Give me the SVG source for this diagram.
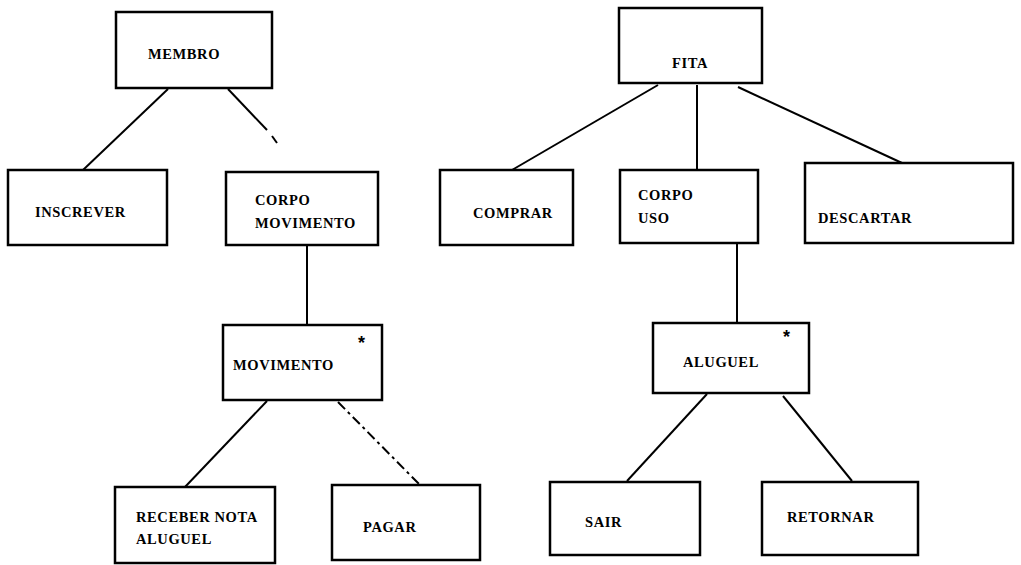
<svg xmlns="http://www.w3.org/2000/svg" width="1021" height="565" viewBox="0 0 1021 565">
<style>
.box{fill:#fff;stroke:#000;stroke-width:2.5}
.t{font-family:"Liberation Serif",serif;font-weight:bold;font-size:14.5px;letter-spacing:0.6px;fill:#000}
.star{font-family:"Liberation Sans",sans-serif;font-weight:bold;font-size:18px;fill:#000}
.c line{stroke:#000;stroke-width:2}
.dash{stroke-dasharray:10 4 3 4}
</style>
<rect width="1021" height="565" fill="#fff"/>
<g class="c" id="connectors">
<line x1="168" y1="89" x2="83" y2="170"/>
<line x1="228" y1="89" x2="267" y2="130"/>
<line x1="272" y1="136" x2="277" y2="143"/>
<line x1="307" y1="245" x2="307" y2="325"/>
<line x1="267" y1="401" x2="185" y2="487"/>
<line class="dash" x1="338" y1="402" x2="420" y2="485"/>
<line x1="658" y1="85" x2="512" y2="170"/>
<line x1="697" y1="85" x2="697" y2="169"/>
<line x1="738" y1="87" x2="902" y2="163"/>
<line x1="737" y1="243" x2="737" y2="323"/>
<line x1="707" y1="394" x2="627" y2="481"/>
<line x1="783" y1="396" x2="852" y2="481"/>
</g>
<g id="membro"><rect class="box" x="116" y="12" width="156" height="76"/><text class="t" x="148" y="59">MEMBRO</text></g>
<g id="inscrever"><rect class="box" x="8" y="170" width="159" height="75"/><text class="t" x="35" y="217">INSCREVER</text></g>
<g id="corpo-movimento"><rect class="box" x="226" y="172" width="152" height="73"/><text class="t" x="255" y="205">CORPO</text><text class="t" x="255" y="228">MOVIMENTO</text></g>
<g id="movimento"><rect class="box" x="223" y="325" width="159" height="75"/><text class="t" x="233" y="370">MOVIMENTO</text><text class="star" x="358" y="349">*</text></g>
<g id="receber"><rect class="box" x="115" y="487" width="160" height="76"/><text class="t" x="136" y="522">RECEBER NOTA</text><text class="t" x="136" y="544">ALUGUEL</text></g>
<g id="pagar"><rect class="box" x="332" y="485" width="148" height="75"/><text class="t" x="363" y="532">PAGAR</text></g>
<g id="fita"><rect class="box" x="619" y="8" width="143" height="75"/><text class="t" x="672" y="68">FITA</text></g>
<g id="comprar"><rect class="box" x="440" y="170" width="133" height="75"/><text class="t" x="473" y="218">COMPRAR</text></g>
<g id="corpo-uso"><rect class="box" x="620" y="170" width="138" height="73"/><text class="t" x="638" y="200">CORPO</text><text class="t" x="638" y="223">USO</text></g>
<g id="descartar"><rect class="box" x="805" y="163" width="208" height="80"/><text class="t" x="818" y="223">DESCARTAR</text></g>
<g id="aluguel"><rect class="box" x="653" y="323" width="156" height="70"/><text class="t" x="683" y="367">ALUGUEL</text><text class="star" x="783" y="343">*</text></g>
<g id="sair"><rect class="box" x="550" y="482" width="150" height="73"/><text class="t" x="585" y="527">SAIR</text></g>
<g id="retornar"><rect class="box" x="762" y="482" width="156" height="73"/><text class="t" x="787" y="522">RETORNAR</text></g>
</svg>
